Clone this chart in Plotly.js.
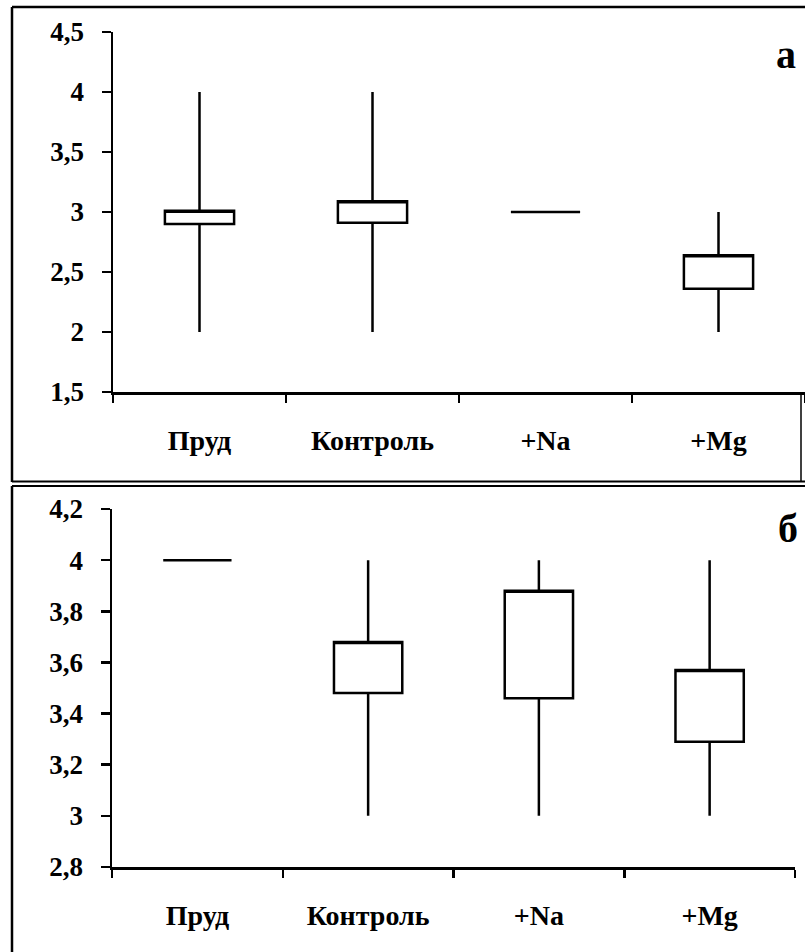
<!DOCTYPE html>
<html>
<head>
<meta charset="utf-8">
<script src="https://cdn.plot.ly/plotly-3.0.1.min.js"></script>
<style>html,body{margin:0;padding:0;background:#fff;}#chart{width:805px;height:952px;}</style>
</head>
<body>
<div id="chart"></div>
<script>
// ---- data ----
const categories = ['Пруд', 'Контроль', '+Na', '+Mg'];

// panel а
const lowA  = [2, 2, 3, 2];
const q1A   = [2.9, 2.91, 3, 2.36];
const q3A   = [3.01, 3.09, 3, 2.64];
const highA = [4, 4, 3, 3];

// panel б
const lowB  = [4, 3, 3, 3];
const q1B   = [4, 3.48, 3.46, 3.29];
const q3B   = [4, 3.68, 3.88, 3.57];
const highB = [4, 4, 4, 4];

const yTickValsA = [1.5, 2, 2.5, 3, 3.5, 4, 4.5];
const yTickTextA = ['1,5', '2', '2,5', '3', '3,5', '4', '4,5'];
const yTickValsB = [2.8, 3, 3.2, 3.4, 3.6, 3.8, 4, 4.2];
const yTickTextB = ['2,8', '3', '3,2', '3,4', '3,6', '3,8', '4', '4,2'];

const panelLabels = ['а', 'б'];

// ---- drawing ----
const W = 805, H = 952;
const px = v => v / W;
const py = v => 1 - v / H;

const FAMILY = 'Liberation Serif';
const mkFont = (s) => ({family: FAMILY, size: s, color: '#000', weight: 'bold'});

function boxTrace(q1, q3, lo, hi, xa, ya) {
  return {
    type: 'box',
    x: categories,
    q1: q1,
    median: q3,
    q3: q3,
    lowerfence: lo,
    upperfence: hi,
    width: 0.4,
    whiskerwidth: 0,
    fillcolor: '#ffffff',
    line: {color: '#000', width: 2.5},
    xaxis: xa, yaxis: ya,
    hoverinfo: 'skip',
    showlegend: false
  };
}

const data = [
  boxTrace(q1A, q3A, lowA, highA, 'x', 'y'),
  boxTrace(q1B, q3B, lowB, highB, 'x2', 'y2')
];

function xAxis(domain, anchor) {
  return {
    domain: domain, anchor: anchor,
    type: 'category',
    categoryorder: 'array', categoryarray: categories,
    range: [-0.5, 3.5],
    showline: true, linecolor: '#000', linewidth: 2.5,
    ticks: 'outside', tickson: 'boundaries', ticklen: 8, tickwidth: 2.5, tickcolor: '#000',
    ticklabelstandoff: 22,
    showgrid: false, zeroline: false,
    tickfont: mkFont(28), fixedrange: true
  };
}
function yAxis(domain, anchor, range, vals, text) {
  return {
    domain: domain, anchor: anchor,
    range: range,
    tickmode: 'array', tickvals: vals, ticktext: text,
    showline: true, linecolor: '#000', linewidth: 2.5,
    ticks: 'outside', ticklen: 9, tickwidth: 2.5, tickcolor: '#000',
    ticklabelstandoff: 12,
    showgrid: false, zeroline: false,
    tickfont: mkFont(27), fixedrange: true
  };
}

const lineShape = (x0, y0, x1, y1, w) => ({
  type: 'line', xref: 'paper', yref: 'paper',
  x0: px(x0), y0: py(y0), x1: px(x1), y1: py(y1),
  line: {color: '#000', width: w}
});

const layout = {
  width: W, height: H,
  font: mkFont(27),
  margin: {l: 0, r: 0, t: 0, b: 0, pad: 0},
  paper_bgcolor: '#fff', plot_bgcolor: 'rgba(0,0,0,0)',
  showlegend: false,
  xaxis: xAxis([px(113), 1], 'y'),
  yaxis: yAxis([py(392), py(32)], 'x', [1.5, 4.5], yTickValsA, yTickTextA),
  xaxis2: xAxis([px(112), px(795)], 'y2'),
  yaxis2: yAxis([py(867), py(509)], 'x2', [2.8, 4.2], yTickValsB, yTickTextB),
  shapes: [
    lineShape(12, 7, 805, 7, 2.5),
    lineShape(12, 7, 12, 482, 2.5),
    lineShape(12, 481.5, 805, 481.5, 2),
    lineShape(801, 393, 801, 482, 1.5),
    lineShape(12, 486, 805, 486, 2),
    lineShape(12, 486, 12, 952, 2.5)
  ],
  annotations: [
    {xref: 'paper', yref: 'paper', x: px(786), y: py(54), xanchor: 'center', yanchor: 'middle',
     text: panelLabels[0], showarrow: false, font: mkFont(40)},
    {xref: 'paper', yref: 'paper', x: px(788), y: py(528), xanchor: 'center', yanchor: 'middle',
     text: panelLabels[1], showarrow: false, font: mkFont(40)}
  ]
};

Plotly.newPlot('chart', data, layout, {displayModeBar: false, staticPlot: true});
</script>
</body>
</html>
